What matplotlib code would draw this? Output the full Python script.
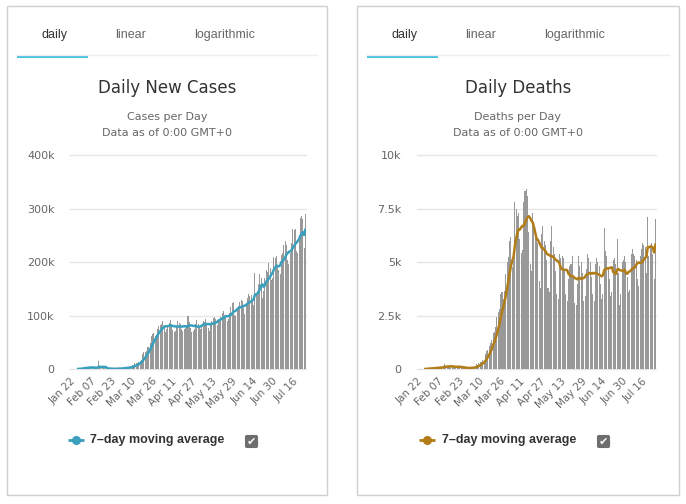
import matplotlib
matplotlib.use("Agg")
import matplotlib.pyplot as plt
from matplotlib.patches import Rectangle, FancyBboxPatch
import numpy as np
import pandas as pd

# ---------------- data ----------------
tick_labels = ["Jan 22", "Feb 07", "Feb 23", "Mar 10", "Mar 26", "Apr 11",
               "Apr 27", "May 13", "May 29", "Jun 14", "Jun 30", "Jul 16"]

cases_jan = [0, 99, 287, 493, 684, 809, 2651, 588, 2068, 1693]
cases_feb = [2111, 4749, 3094, 4011, 3743, 3159, 3597, 2729, 3030, 2613, 2022, 1820,
             15152, 5090, 2664, 2098, 2025, 1885, 548, 573, 1047, 1728, 431, 589,
             894, 955, 1195, 1313, 1760]
cases_mar = [1950, 1802, 2369, 2233, 2730, 3964, 3983, 4041, 3784, 4478, 7480, 7519,
             10837, 10856, 11012, 13904, 15078, 18000, 28600, 31600, 32200, 33500,
             40800, 42000, 50000, 62000, 66000, 68000, 62000, 64000, 76000]
cases_apr = [80000, 82000, 84000, 90000, 80000, 70000, 76000, 82000, 86000, 92000,
             84000, 74000, 70000, 72000, 80000, 90000, 86000, 84000, 76000, 72000,
             76000, 78000, 82000, 100000, 88000, 78000, 70000, 72000, 76000, 84000]
cases_may = [92000, 84000, 78000, 76000, 80000, 90000, 88000, 94000, 86000, 78000,
             72000, 84000, 90000, 96000, 98000, 94000, 82000, 90000, 94000, 98000,
             106000, 108000, 102000, 96000, 90000, 94000, 106000, 116000, 124000,
             126000, 102000]
cases_jun = [100000, 112000, 118000, 126000, 130000, 128000, 114000, 104000, 120000,
             134000, 140000, 136000, 138000, 126000, 120000, 180000, 142000, 146000,
             160000, 178000, 170000, 134000, 146000, 170000, 186000, 182000, 198000,
             190000, 166000, 170000]
cases_jul = [210000, 208000, 212000, 194000, 186000, 178000, 214000, 218000, 232000,
             240000, 232000, 204000, 196000, 218000, 236000, 262000, 260000, 262000,
             220000, 218000, 242000, 282000, 286000, 280000, 226000, 290000]

deaths_jan = [0, 8, 16, 15, 24, 26, 26, 38, 43, 46]
deaths_feb = [45, 57, 64, 66, 73, 73, 86, 89, 97, 108, 97, 254, 121, 143, 142, 106,
              98, 139, 115, 125, 111, 100, 160, 80, 70, 60, 50, 60, 70]
deaths_mar = [58, 68, 73, 82, 102, 102, 104, 228, 204, 279, 332, 349, 441, 396, 721,
              846, 921, 1084, 1226, 1345, 1698, 1726, 1961, 2451, 2692, 2816, 3518,
              3600, 3289, 3674, 4467]
deaths_apr = [5006, 5236, 5986, 6181, 4789, 5033, 7811, 7479, 7159, 7314, 6092, 5440,
              5558, 7794, 8300, 8420, 8100, 6400, 4900, 4600, 7300, 6800, 6500, 6300,
              5900, 4100, 3800, 6300, 6700, 6000]
deaths_may = [5800, 5100, 3800, 3600, 6000, 6700, 5700, 5400, 4600, 3500, 3300, 5400,
              5200, 5300, 5200, 4600, 3500, 3200, 4200, 4800, 4900, 5300, 4300, 3100,
              3000, 4000, 5300, 4800, 5000, 4500, 3200]
deaths_jun = [3400, 4700, 5400, 5200, 5000, 4300, 3500, 3200, 4900, 5200, 5000, 4800,
              4000, 3300, 3500, 6600, 5500, 5300, 4700, 4200, 3400, 3600, 5100, 5200,
              4900, 6100, 4500, 3000, 3500, 5000]
deaths_jul = [5100, 5300, 5000, 4300, 3600, 3700, 5400, 5600, 5400, 5300, 5100, 4200,
              3900, 5300, 5600, 5900, 5800, 5700, 4500, 7100, 5300, 5800, 5900, 5400,
              4200, 7000]

cases = cases_jan + cases_feb + cases_mar + cases_apr + cases_may + cases_jun + cases_jul
deaths = deaths_jan + deaths_feb + deaths_mar + deaths_apr + deaths_may + deaths_jun + deaths_jul

cases_ma = pd.Series(cases, dtype=float).rolling(7).mean()
deaths_ma = pd.Series(deaths, dtype=float).rolling(7).mean()

# ---------------- style ----------------
W, H = 686, 504
BAR = "#999999"
GRID = "#e6e6e6"
TXT = "#666666"
CASE_LINE = "#3a9fbd"
DEATH_LINE = "#b27c17"
TAB_BLUE = "#45bfdd"

fig = plt.figure(figsize=(W / 100, H / 100), dpi=100)
fig.patch.set_facecolor("white")

bg = fig.add_axes([0, 0, 1, 1])
bg.set_xlim(0, W)
bg.set_ylim(H, 0)
bg.axis("off")


def fx(x):
    return x / W


def fy(y):
    return 1 - y / H


def panel(x0, x1, title, sub, ax_left, ax_right, values, ma, line_color, ymax, yticks, ylabels):
    # border
    bg.add_patch(Rectangle((x0, 6), x1 - x0, 489, fill=False, edgecolor="#cfcfcf", lw=1))
    cx = (x0 + x1) / 2
    # tabs
    bg.text(x0 + 48, 35, "daily", ha="center", va="center", fontsize=9,
            family="Liberation Sans", color="#333333")
    bg.text(x0 + 124, 35, "linear", ha="center", va="center", fontsize=9,
            family="Liberation Sans", color="#666666")
    bg.text(x0 + 218, 35, "logarithmic", ha="center", va="center", fontsize=9,
            family="Liberation Sans", color="#666666")
    bg.plot([x0 + 10, x1 - 10], [54.5, 54.5], color="#eeeeee", lw=1)
    bg.add_patch(Rectangle((x0 + 10, 55.2), 71, 3.2, color=TAB_BLUE, lw=0))
    # titles
    bg.text(cx, 88, title, ha="center", va="center", fontsize=12, color="#333333")
    bg.text(cx, 117.5, sub, ha="center", va="center", fontsize=8, color=TXT)
    bg.text(cx, 132.5, "Data as of 0:00 GMT+0", ha="center", va="center", fontsize=8, color=TXT)

    # chart
    top, bottom = 155, 369.3
    ax = fig.add_axes([fx(ax_left), fy(bottom), fx(ax_right - ax_left), (bottom - top) / H])
    ax.set_facecolor("none")
    x = np.arange(len(values))
    ax.bar(x, values, width=0.8, color=BAR, zorder=2)
    ax.plot(x, ma, color=line_color, lw=1.8, zorder=3, solid_joinstyle="round")
    ax.set_xlim(-0.5, len(values) - 0.5)
    ax.set_ylim(0, ymax)
    for s in ax.spines.values():
        s.set_visible(False)
    ax.set_yticks(yticks)
    ax.set_yticklabels(ylabels)
    ax.yaxis.grid(True, color=GRID, lw=1, zorder=0)
    ax.set_axisbelow(True)
    ax.tick_params(axis="y", length=0, pad=11, labelsize=8, labelcolor=TXT)
    ax.set_xticks(np.arange(0, len(values), 16))
    ax.set_xticklabels(tick_labels, rotation=45, ha="right", rotation_mode="anchor")
    ax.tick_params(axis="x", length=0, pad=5, labelsize=7.5, labelcolor=TXT)
    for gl in ax.get_ygridlines():
        gl.set_clip_on(False)

    return ax


panel(7, 327, "Daily New Cases", "Cases per Day", 70, 306, cases, cases_ma, CASE_LINE,
      400000, [0, 100000, 200000, 300000, 400000], ["0", "100k", "200k", "300k", "400k"])
panel(357, 679, "Daily Deaths", "Deaths per Day", 417, 656, deaths, deaths_ma, DEATH_LINE,
      10000, [0, 2500, 5000, 7500, 10000], ["0", "2.5k", "5k", "7.5k", "10k"])


def legend(xm, xt, xc, color):
    y = 440
    bg.plot([xm - 8, xm + 8], [y, y], color=color, lw=2, solid_capstyle="butt")
    bg.plot([xm], [y], marker="o", ms=5.5, color=color, mec=color)
    bg.text(xt, y, "7\u2013day moving average", ha="left", va="center", fontsize=9,
            fontweight="bold", family="Liberation Sans", color="#333333")
    bg.add_patch(FancyBboxPatch((xc - 6, y + 1.5 - 6), 12, 12,
                                boxstyle="round,pad=0,rounding_size=1.5",
                                facecolor="#6e6e6e", edgecolor="#6e6e6e", lw=0.8))
    bg.text(xc, y + 1.8, "\u2714", ha="center", va="center", fontsize=8, color="white",
            family="DejaVu Sans")


legend(76, 90, 251.5, CASE_LINE)
legend(427, 442, 603.5, DEATH_LINE)

fig.savefig("out.png", dpi=100, facecolor="white")
